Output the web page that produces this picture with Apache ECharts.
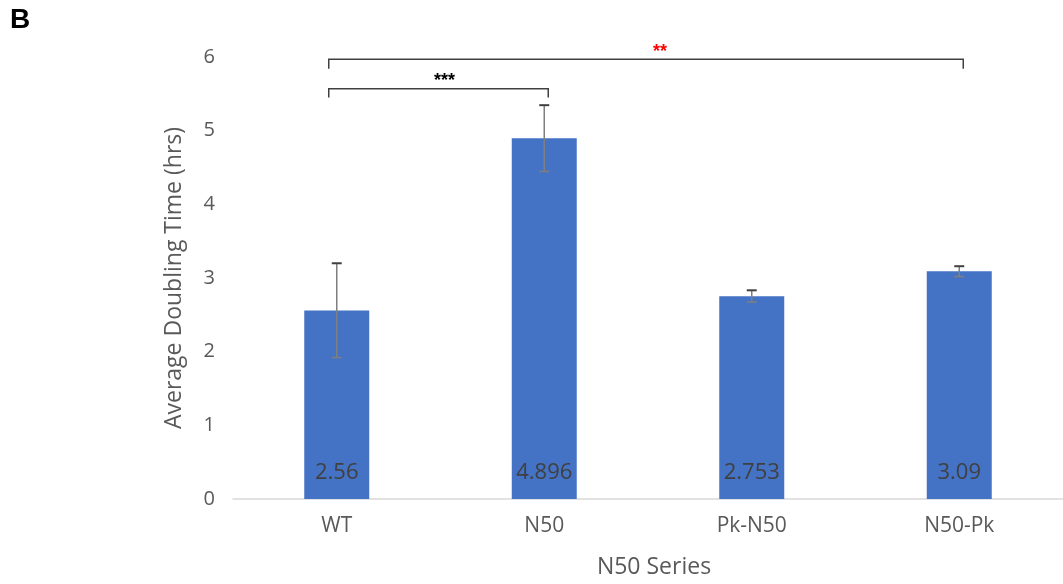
<!DOCTYPE html>
<html>
<head>
<meta charset="utf-8">
<script src="https://cdn.jsdelivr.net/npm/echarts@6/dist/echarts.min.js"></script>
<style>html,body{margin:0;padding:0;background:#fff}#c{width:1063px;height:584px}</style>
</head>
<body>
<div id="c"></div>
<script>
const categories = ['WT', 'N50', 'Pk-N50', 'N50-Pk'];
const values = [2.56, 4.896, 2.753, 3.09];
const errors = [0.64, 0.45, 0.08, 0.07];
const yTicks = [0, 1, 2, 3, 4, 5, 6];
// brackets: [fromIndex, toIndex, lineY, tickBottomY, starsY, label, color]
const brackets = [
  [0, 1, 5.57, 5.45, 5.67, '***', '#000000'],
  [0, 3, 5.97, 5.84, 6.07, '**', '#ff0000']
];

const font = '"Open Sans", Lato, sans-serif';
const chart = echarts.init(document.getElementById('c'));

const errData = categories.map((c, i) => [i, values[i] - errors[i], values[i] + errors[i]]);

chart.setOption({
  animation: false,
  graphic: [{ type: 'text', left: 10, top: 6, style: { text: 'B', font: 'bold 28px Arial, "Liberation Sans", sans-serif', fill: '#000' } }],
  grid: { left: 233, width: 839, top: 57, bottom: 85 },
  xAxis: {
    type: 'category', data: categories,
    name: 'N50 Series', nameLocation: 'middle', nameGap: 57,
    nameTextStyle: { fontFamily: font, fontSize: 23, color: '#595959', padding: [0, 0, 0, 12] },
    axisLine: { lineStyle: { color: '#d9d9d9', width: 1.5 } },
    axisTick: { show: false },
    axisLabel: { fontFamily: font, fontSize: 21, color: '#595959', margin: 17 }
  },
  yAxis: {
    type: 'value', min: yTicks[0], max: yTicks[yTicks.length - 1], interval: 1,
    name: 'Average Doubling Time (hrs)', nameLocation: 'middle', nameGap: 47,
    nameTextStyle: { fontFamily: font, fontSize: 23, color: '#595959' },
    axisLine: { show: false }, axisTick: { show: false },
    splitLine: { show: false },
    axisLabel: { fontFamily: font, fontSize: 20, color: '#595959', margin: 18 }
  },
  series: [
    {
      type: 'bar', data: values, barWidth: 65,
      itemStyle: { color: '#4472c4' },
      label: { show: true, position: 'insideBottom', distance: 15, fontFamily: font, fontSize: 22, color: '#404040' },
      z: 2
    },
    {
      type: 'custom', data: errData, z: 5,
      renderItem: function (params, api) {
        const x = api.value(0);
        const lo = api.coord([x, api.value(1)]);
        const hi = api.coord([x, api.value(2)]);
        const hw = 5;
        const st = { stroke: '#7f7f7f', lineWidth: 1.5 };
        return { type: 'group', children: [
          { type: 'line', shape: { x1: lo[0], y1: lo[1], x2: hi[0], y2: hi[1] }, style: st },
          { type: 'line', shape: { x1: lo[0] - hw, y1: lo[1], x2: lo[0] + hw, y2: lo[1] }, style: st },
          { type: 'line', shape: { x1: hi[0] - hw, y1: hi[1], x2: hi[0] + hw, y2: hi[1] }, style: { stroke: '#404040', lineWidth: 2 } }
        ] };
      }
    },
    {
      type: 'custom', data: brackets, z: 5, clip: false,
      renderItem: function (params, api) {
        const b = brackets[params.dataIndex];
        const a = api.coord([b[0], b[2]]);
        const c = api.coord([b[1], b[2]]);
        const aB = api.coord([b[0], b[3]]);
        const sY = api.coord([b[0], b[4]])[1];
        const x1 = a[0] - 8, x2 = c[0] + 4;
        const sx = (x1 + x2) / 2 + (b[1] - b[0] > 1 ? 14 : 6);
        const st = { stroke: '#404040', lineWidth: 1.5, fill: null };
        return { type: 'group', children: [
          { type: 'polyline', shape: { points: [[x1, aB[1]], [x1, a[1]], [x2, a[1]], [x2, aB[1]]] }, style: st },
          { type: 'text', style: { text: b[5], x: sx, y: sY, align: 'center', verticalAlign: 'middle', font: 'bold 18px Arial, sans-serif', fill: b[6] } }
        ] };
      }
    }
  ]
});
</script>
</body>
</html>
